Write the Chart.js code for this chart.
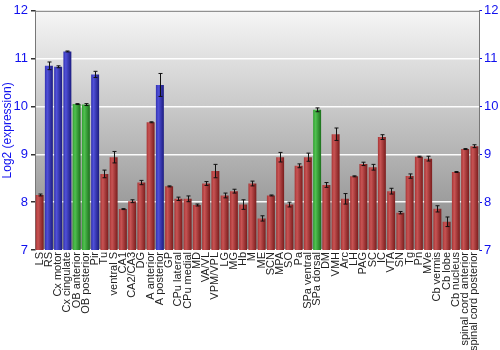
<!DOCTYPE html>
<html><head><meta charset="utf-8">
<script src="https://cdn.jsdelivr.net/npm/chart.js@4"></script>
<style>html,body{margin:0;padding:0;background:#fff}#wrap{width:500px;height:350px}</style>
</head><body><div id="wrap"><canvas id="c" width="500" height="350"></canvas></div>
<script>
const categories = ["LS","RS","Cx motor","Cx cingulate","OB anterior","OB posterior","Pir","Tu","ventral S","CA1","CA2/CA3","DG","A anterior","A posterior","GP","CPu lateral","CPu medial","MD","VA/VL","VPM/VPL","LG","MG","Hb","M","ME","SCN","MPA","SO","Pa","SPa ventral","SPa dorsal","DM","VMH","Arc","LH","PAG","SC","IC","VTA","SN","Tg","Pn","MVe","Cb vermis","Cb lobe","Cb nucleus","spinal cord anterior","spinal cord posterior"];
const values = [8.15,10.85,10.83,11.15,10.05,10.04,10.67,8.59,8.94,7.855,8.02,8.41,9.67,10.45,8.33,8.07,8.07,7.94,8.39,8.65,8.14,8.23,7.95,8.39,7.66,8.14,8.94,7.95,8.76,8.94,9.93,8.36,9.42,8.07,8.54,8.8,8.73,9.36,8.23,7.78,8.545,8.95,8.91,7.86,7.59,8.63,9.11,9.17];
const errors = [0.02,0.08,0.02,0.01,0.01,0.02,0.065,0.08,0.12,0.01,0.03,0.045,0.01,0.24,0.01,0.035,0.06,0.02,0.04,0.14,0.05,0.04,0.1,0.05,0.055,0.01,0.1,0.05,0.04,0.085,0.04,0.05,0.13,0.11,0.01,0.035,0.06,0.05,0.06,0.025,0.045,0.01,0.05,0.065,0.1,0.01,0.01,0.03];
const groups = ["r","b","b","b","g","g","b","r","r","r","r","r","r","b","r","r","r","r","r","r","r","r","r","r","r","r","r","r","r","r","g","r","r","r","r","r","r","r","r","r","r","r","r","r","r","r","r","r"];
const yTicks = [7,8,9,10,11,12];

const palette = {
  r: ["#c85454","#a83434","#7a1c1c"],
  b: ["#5050d8","#3030b0","#1c1c80"],
  g: ["#50c050","#30a030","#1c701c"]
};
const BAR_PCT = 0.86;

function barFill(ctx){
  const chart = ctx.chart;
  const g = groups[ctx.dataIndex];
  const p = palette[g];
  const xs = chart.scales.x;
  if(!xs || !chart.chartArea) return p[1];
  const cx = xs.getPixelForValue(ctx.dataIndex);
  const w = (xs.width / categories.length) * BAR_PCT;
  const grad = chart.ctx.createLinearGradient(cx - w/2, 0, cx + w/2, 0);
  grad.addColorStop(0, p[1]);
  grad.addColorStop(0.3, p[0]);
  grad.addColorStop(1, p[2]);
  return grad;
}

const bgPlugin = {
  id: 'bg',
  beforeDraw(chart){
    const {ctx, chartArea:a} = chart;
    const grad = ctx.createLinearGradient(0, a.top, 0, a.bottom);
    grad.addColorStop(0, '#f6f6f6');
    grad.addColorStop(1, '#868686');
    ctx.save();
    ctx.fillStyle = grad;
    ctx.fillRect(a.left, a.top, a.right - a.left, a.bottom - a.top);
    ctx.restore();
  },
  afterDraw(chart){
    const {ctx, chartArea:a} = chart;
    ctx.save();
    ctx.strokeStyle = '#777';
    ctx.lineWidth = 1;
    ctx.beginPath();
    ctx.moveTo(a.left, a.top + 0.5);
    ctx.lineTo(a.right, a.top + 0.5);
    ctx.stroke();
    ctx.restore();
  }
};

const errPlugin = {
  id: 'err',
  afterDatasetsDraw(chart){
    const {ctx} = chart;
    const ys = chart.scales.y;
    const meta = chart.getDatasetMeta(0);
    ctx.save();
    ctx.strokeStyle = '#111';
    ctx.lineWidth = 1;
    meta.data.forEach((bar, i) => {
      const x = Math.round(bar.x) + 0.5;
      const yHi = ys.getPixelForValue(values[i] + errors[i]);
      const yLo = ys.getPixelForValue(values[i] - errors[i]);
      ctx.beginPath();
      ctx.moveTo(x, yHi); ctx.lineTo(x, yLo);
      ctx.moveTo(x - 2, yHi); ctx.lineTo(x + 2, yHi);
      ctx.moveTo(x - 2, yLo); ctx.lineTo(x + 2, yLo);
      ctx.stroke();
    });
    ctx.restore();
  }
};

new Chart(document.getElementById('c'), {
  type: 'bar',
  data: {
    labels: categories,
    datasets: [{
      data: values,
      backgroundColor: barFill,
      borderWidth: 0,
      barPercentage: BAR_PCT,
      categoryPercentage: 1.0
    }]
  },
  options: {
    responsive: false,
    animation: false,
    devicePixelRatio: 1,
    layout: { padding: { top: 9, left: 0, right: 0, bottom: 0 } },
    plugins: { legend: { display: false }, tooltip: { enabled: false } },
    scales: {
      x: {
        grid: { display: false, drawTicks: false },
        border: { display: false },
        ticks: {
          autoSkip: false, maxRotation: 90, minRotation: 90, padding: 2,
          color: '#222', font: { family: 'Liberation Sans', size: 11 }
        },
        afterFit(s){ s.height = 100; }
      },
      y: {
        min: 7, max: 12,
        afterBuildTicks(s){ s.ticks = yTicks.map(v => ({value: v})); },
        grid: { color: 'rgba(255,255,255,0.95)', lineWidth: 1.5, tickColor: '#333', tickLength: 4 },
        border: { color: '#777', width: 1 },
        ticks: { color: '#1010ee', padding: 3, font: { family: 'Liberation Sans', size: 13 } },
        title: { display: true, text: 'Log2 (expression)', color: '#1010ee', padding: 0, font: { family: 'Liberation Sans', size: 12 } },
        afterFit(s){ s.width = 35; }
      },
      y2: {
        position: 'right',
        min: 7, max: 12,
        afterBuildTicks(s){ s.ticks = yTicks.map(v => ({value: v})); },
        grid: { drawOnChartArea: false, tickColor: '#1010ee', tickLength: 3 },
        border: { color: '#777', width: 1 },
        ticks: { color: '#1010ee', padding: 2, font: { family: 'Liberation Sans', size: 13 } },
        afterFit(s){ s.width = 21; }
      }
    }
  },
  plugins: [bgPlugin, errPlugin]
});
</script>
</body></html>
